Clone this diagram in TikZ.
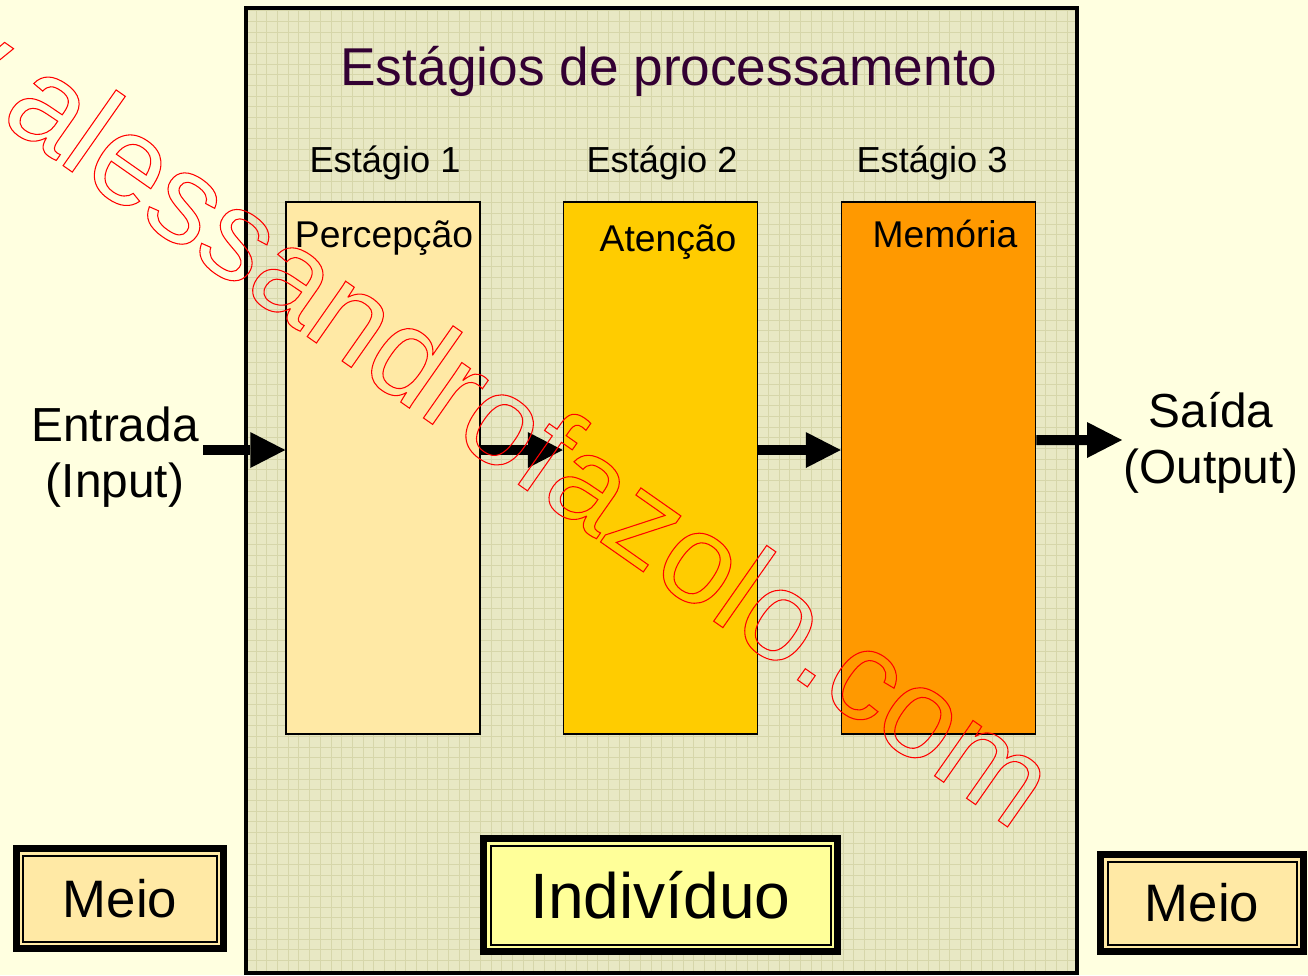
\documentclass[tikz,border=0pt]{standalone}
\usepackage{fontspec}
\setmainfont{Liberation Sans}
\usetikzlibrary{arrows.meta}

\definecolor{bgyellow}{HTML}{FFFFE0}
\definecolor{gridfill}{HTML}{E8E8C4}
\definecolor{gridline}{HTML}{D6D6AA}
\definecolor{peach}{HTML}{FFE9A5}
\definecolor{gold}{HTML}{FFCC00}
\definecolor{deeporange}{HTML}{FF9900}
\definecolor{paleyellow}{HTML}{FFFF99}
\definecolor{titlepurple}{HTML}{330033}

\newcommand{\outlinetext}[1]{\special{pdf:literal direct 1 Tr 0.6 w}#1\special{pdf:literal direct 0 Tr}}

\begin{document}
\begin{tikzpicture}[x=0.2mm,y=-0.2mm,
title text/.style={font=\fontsize{30.3}{34}\selectfont,text=titlepurple,anchor=base},
stage label/.style={font=\fontsize{20.6}{24}\selectfont,anchor=base},
box label/.style={font=\fontsize{21.2}{24}\selectfont,anchor=base},
stage node/.style={rectangle,draw=black,line width=0.3mm,minimum width=38.8mm,minimum height=106.4mm,inner sep=0pt},
side text/.style={font=\fontsize{27.2}{31.7}\selectfont,align=center},
frame node/.style={rectangle,draw=black,line width=1.4mm,inner sep=0pt,
  font=\fontsize{30}{34}\selectfont,
  path picture={\draw[line width=0.4mm] ([shift={(1.4mm,1.4mm)}]path picture bounding box.south west) rectangle ([shift={(-1.4mm,-1.4mm)}]path picture bounding box.north east);}},
big arrow/.style={line width=2mm,-{Triangle[length=7mm,width=7.2mm,line width=0pt]}},
watermark/.style={font=\fontsize{72.6}{80}\selectfont,text=red,rotate=-35,anchor=base west,inner sep=0pt}]

\fill[bgyellow] (0,0) rectangle (1308,975);
\useasboundingbox (0,0) rectangle (1308,975);

%Individuo
\node[rectangle,draw=black,line width=0.8mm,fill=gridfill,minimum width=166.2mm,minimum height=192.9mm,
  path picture={\draw[gridline,line width=0.25pt] (path picture bounding box.south west) grid[step=2.134mm] (path picture bounding box.north east);}]
  (caixa) at (661.5,490.75) {};
\node[title text] (titulo) at (669,85) {Estágios de processamento};

%Estagios
\node[stage label] (est1) at (385,172) {Estágio 1};
\node[stage label] (est2) at (662,172) {Estágio 2};
\node[stage label] (est3) at (932,172) {Estágio 3};

\node[stage node,fill=peach] (percepcao) at (383,468) {};
\node[stage node,fill=gold] (atencao) at (660.5,468) {};
\node[stage node,fill=deeporange] (memoria) at (938.5,468) {};

\node[box label] (percepcao txt) at (384,247) {Percepção};
\node[box label] (atencao txt) at (668,251) {Atenção};
\node[box label] (memoria txt) at (945,247) {Memória};

%Entrada e saida
\node[side text] (entrada) at (115,457) {Entrada\\(Input)};
\node[side text] (saida) at (1211,443) {Saída\\(Output)};
\coordinate (entrada tail) at (203,450);
\coordinate (saida head) at (1122,440);

%Paths
\draw[big arrow] (entrada tail) -- (entrada tail -| percepcao.west);
\draw[big arrow] ([yshift=3.6mm]percepcao.east) -- ([yshift=3.6mm]atencao.west);
\draw[big arrow] ([yshift=3.6mm]atencao.east) -- ([yshift=3.6mm]memoria.west);
\draw[big arrow] ([yshift=5.6mm]memoria.east) -- (saida head);

%Meio e individuo
\node[frame node,fill=peach,minimum width=41.4mm,minimum height=20mm] (meio esq) at (120,898.5) {Meio};
\node[frame node,fill=paleyellow,minimum width=70.8mm,minimum height=22.6mm,font=\fontsize{36.5}{40}\selectfont] (individuo) at (660.5,895) {Indivíduo};
\node[frame node,fill=peach,minimum width=40.6mm,minimum height=19.4mm] (meio dir) at (1202,903) {Meio};

%Marca
\node[watermark] (marca) at (-252,-55) {\outlinetext{www.alessandrofazolo.com}};
\end{tikzpicture}
\end{document}
